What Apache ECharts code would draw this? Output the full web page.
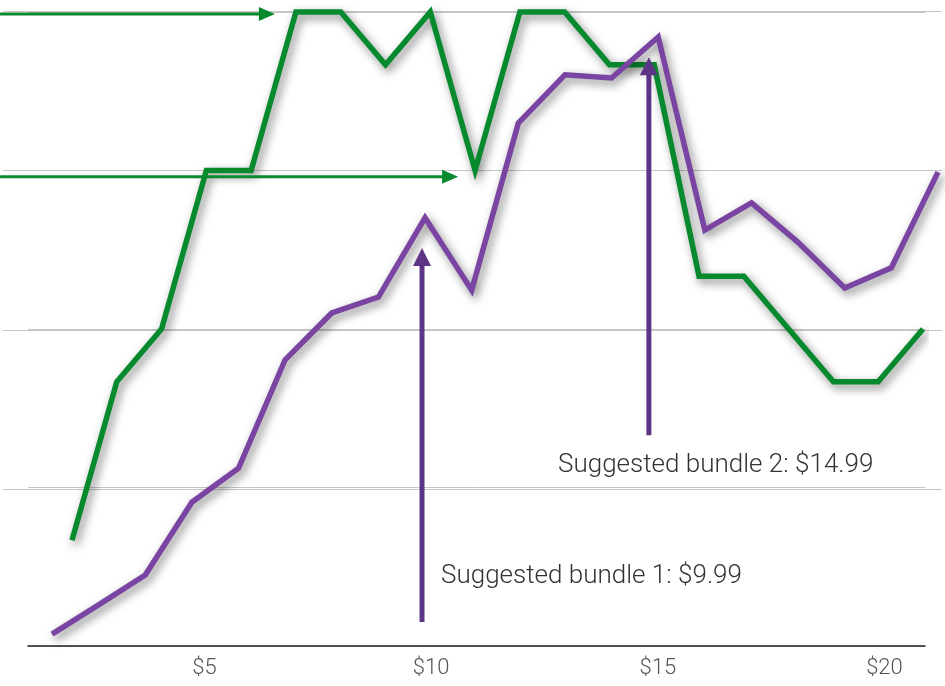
<!DOCTYPE html>
<html><head><meta charset="utf-8">
<script src="https://cdn.jsdelivr.net/npm/echarts@6/dist/echarts.min.js"></script>
<style>html,body{margin:0;padding:0;background:#fff}#c{width:945px;height:686px}</style>
</head><body><div id="c"></div>
<script>
// ---- data ----
const prices = [2,3,4,5,6,7,8,9,10,11,12,13,14,15,16,17,18,19,20,21];
const greenValues = [2,5,6,9,9,12,12,11,12,9,12,12,11,11,7,7,6,5,5,6];
const purpleValues = [0.28,0.83,1.39,2.76,3.40,5.44,6.32,6.62,8.11,6.75,9.89,10.80,10.74,11.51,7.88,8.39,7.65,6.79,7.17,8.97];
const xTickValues = [5,10,15,20];
// annotations (data units)
const greenArrowTips = [[6.53, 11.96], [10.62, 8.88]];          // [price, level] on green axes
const purpleArrows = [[9.935, 0.51, 7.54], [14.80, 4.02, 11.13]]; // [price, fromLevel, toLevel] on purple axes
const labelTexts = ['Suggested bundle 1: $9.99', 'Suggested bundle 2: $14.99'];

const GREEN = '#078a2d', PURPLE = '#7a44a2', PURPLE_DARK = '#5d3486';
const chart = echarts.init(document.getElementById('c'), null, {renderer: 'canvas'});
const shadow = {shadowBlur: 10, shadowColor: 'rgba(0,0,0,0.5)', shadowOffsetX: 3, shadowOffsetY: 4};
const split = {show: true, lineStyle: {color: '#c6c6c6', width: 1}};

chart.setOption({
  animation: false,
  backgroundColor: '#fff',
  grid: [
    {left: 28, right: 20, top: 12, bottom: 40, containLabel: false, outerBoundsMode: 'none'},
    {left: 3, right: 3, top: 11, bottom: 37, containLabel: false, outerBoundsMode: 'none'}
  ],
  xAxis: [
    {gridIndex: 0, type: 'value', min: 1.106, max: 20.894,
     axisLine: {show: true, lineStyle: {color: '#222', width: 1.5}},
     axisTick: {show: false}, splitLine: {show: false},
     axisLabel: {customValues: xTickValues, formatter: v => '$' + v, color: '#555',
                 fontSize: 22, fontFamily: 'Roboto', fontWeight: 300, margin: 11}},
    {gridIndex: 0, type: 'value', min: 1.0177, max: 21.045, show: false},
    {gridIndex: 1, type: 'value', min: 0.9492, max: 21.086, show: false}
  ],
  yAxis: [
    {gridIndex: 0, type: 'value', min: 0, max: 12, interval: 3,
     axisLine: {show: false}, axisTick: {show: false}, axisLabel: {show: false}, splitLine: split},
    {gridIndex: 1, type: 'value', min: 0, max: 12, interval: 3,
     axisLine: {show: false}, axisTick: {show: false}, axisLabel: {show: false},
     splitLine: Object.assign({showMinLine: false}, split)}
  ],
  series: [
    {type: 'line', xAxisIndex: 1, yAxisIndex: 0, z: 3, clip: false, symbol: 'none',
     data: prices.map((p, i) => [p, greenValues[i]]),
     lineStyle: Object.assign({color: GREEN, width: 5.5, join: 'miter', cap: 'butt'}, shadow)},
    {type: 'line', xAxisIndex: 2, yAxisIndex: 1, z: 4, clip: false, symbol: 'none',
     data: prices.map((p, i) => [p, purpleValues[i]]),
     lineStyle: Object.assign({color: PURPLE, width: 5.5, join: 'miter', cap: 'butt'}, shadow)}
  ]
});

// annotations positioned through the series' scales
const g = [];
greenArrowTips.forEach(t => {
  const [tx, ty] = chart.convertToPixel({seriesIndex: 0}, t);
  g.push({type: 'line', z: 10, shape: {x1: 0, y1: ty, x2: tx - 12, y2: ty},
          style: {stroke: GREEN, lineWidth: 3}});
  g.push({type: 'polygon', z: 10, shape: {points: [[tx - 16, ty - 7], [tx, ty], [tx - 16, ty + 7]]},
          style: {fill: GREEN}});
});
purpleArrows.forEach(a => {
  const [x0, y0] = chart.convertToPixel({seriesIndex: 1}, [a[0], a[1]]);
  const [x1, y1] = chart.convertToPixel({seriesIndex: 1}, [a[0], a[2]]);
  g.push({type: 'line', z: 10, shape: {x1: x0, y1: y0, x2: x1, y2: y1 + 14},
          style: {stroke: PURPLE_DARK, lineWidth: 5}});
  g.push({type: 'polygon', z: 10, shape: {points: [[x1 - 9, y1 + 18], [x1, y1], [x1 + 9, y1 + 18]]},
          style: {fill: PURPLE_DARK}});
});
const labelPos = [[441, 576], [558, 465]];
labelTexts.forEach((t, i) => {
  g.push({type: 'text', z: 10, x: labelPos[i][0], y: labelPos[i][1],
          style: {text: t, fill: '#333', font: '300 26px Roboto', verticalAlign: 'middle', align: 'left'}});
});
chart.setOption({graphic: g});
</script></body></html>
